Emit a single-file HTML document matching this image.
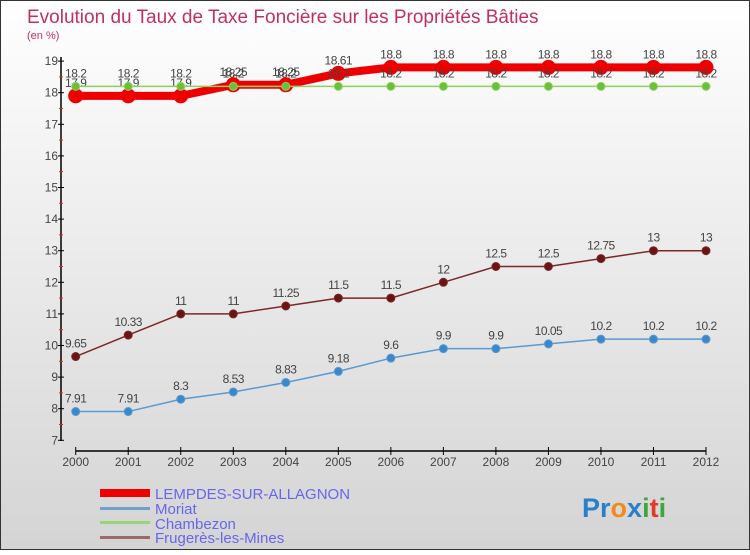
<!DOCTYPE html>
<html><head><meta charset="utf-8"><style>
html,body{margin:0;padding:0}
body{width:750px;height:550px;overflow:hidden;font-family:"Liberation Sans",sans-serif}
svg text{font-family:"Liberation Sans",sans-serif}
</style></head><body>
<svg id="chart" width="750" height="550" viewBox="0 0 750 550">
<defs><linearGradient id="bg" x1="0" y1="0" x2="0" y2="1"><stop offset="0" stop-color="#ffffff"/><stop offset="1" stop-color="#d4d4d4"/></linearGradient></defs>
<rect x="0.5" y="0.5" width="749" height="549" fill="url(#bg)" stroke="#333"/>
<text x="27" y="23" font-size="19" fill="#c0315f">Evolution du Taux de Taxe Foncière sur les Propriétés Bâties</text>
<text x="27" y="39" font-size="11" fill="#c0315f">(en %)</text>
<g id="axes"></g>
<g id="series"></g>
<g>
<rect x="100" y="489" width="50" height="8" fill="#e00"/>
<text x="155" y="499" font-size="15" fill="#6666ee">LEMPDES-SUR-ALLAGNON</text>
<rect x="100" y="507" width="50" height="3" fill="#6fa0cc"/>
<text x="155" y="514" font-size="15" fill="#6666ee">Moriat</text>
<rect x="100" y="521" width="50" height="3" fill="#9ad47a"/>
<text x="155" y="529" font-size="15" fill="#6666ee">Chambezon</text>
<rect x="100" y="536" width="50" height="3" fill="#9a6a6a"/>
<text x="155" y="543" font-size="15" fill="#6666ee">Frugerès-les-Mines</text>
</g>
<text x="582" y="517" font-size="27" font-weight="bold"><tspan fill="#2a7fc9">Pr</tspan><tspan fill="#f08a1c">o</tspan><tspan fill="#2a7fc9">x</tspan><tspan fill="#3aa83a">i</tspan><tspan fill="#e23a2a">t</tspan><tspan fill="#3aa83a">i</tspan></text>
</svg>
<script>
const years=[2000,2001,2002,2003,2004,2005,2006,2007,2008,2009,2010,2011,2012];
const yTicks=[7,8,9,10,11,12,13,14,15,16,17,18,19];
const lempdes=[17.9,17.9,17.9,18.25,18.25,18.61,18.8,18.8,18.8,18.8,18.8,18.8,18.8];
const moriat=[7.91,7.91,8.3,8.53,8.83,9.18,9.6,9.9,9.9,10.05,10.2,10.2,10.2];
const chambezon=[18.2,18.2,18.2,18.2,18.2,18.2,18.2,18.2,18.2,18.2,18.2,18.2,18.2];
const frugeres=[9.65,10.33,11,11,11.25,11.5,11.5,12,12.5,12.5,12.75,13,13];
const NS='http://www.w3.org/2000/svg';
const X0=75.7,X1=706,Y0=440.3,Y1=61.1,YMIN=7,YMAX=19;
function xs(i){return X0+(X1-X0)*i/(years.length-1);}
function ys(v){return Y0-(Y0-Y1)*(v-YMIN)/(YMAX-YMIN);}
function mk(tag,attrs,parent){const e=document.createElementNS(NS,tag);for(const k in attrs)e.setAttribute(k,attrs[k]);parent.appendChild(e);return e;}
const axes=document.getElementById('axes');
let yl=mk('line',{x1:61,y1:57,x2:61,y2:441,stroke:'#000','stroke-width':1.5},axes);


yTicks.forEach(t=>{
 const y=ys(t);
 const tk=mk('line',{x1:58,y1:y,x2:64,y2:y,stroke:'#000'},axes);
 
 
 const tx=mk('text',{x:58,y:y+4,'font-size':12,fill:'#444','text-anchor':'end'},axes);
 tx.textContent=t;
 
 
 if(t<YMAX){const m=mk('line',{x1:59,y1:ys(t+0.5),x2:63,y2:ys(t+0.5),stroke:'#e22'},axes);
 
 }
});
let xl=mk('line',{x1:X0,y1:451,x2:X1,y2:451,stroke:'#000','stroke-width':1.5},axes);


years.forEach((yr,i)=>{
 const x=xs(i);
 const tk=mk('line',{x1:x,y1:447,x2:x,y2:455,stroke:'#000'},axes);
 
 
 const tx=mk('text',{x:x,y:466,'font-size':12,fill:'#444','text-anchor':'middle'},axes);
 tx.textContent=yr;
 
 
});
const sg=document.getElementById('series');
function drawSeries(vals,name,color,width,r,fill){
 const g=mk('g',{},sg);
 
 
 const pl=mk('polyline',{points:vals.map((v,i)=>xs(i)+','+ys(v)).join(' '),fill:'none',stroke:color,'stroke-width':width,'stroke-linejoin':'round'},g);
 
 
 vals.forEach((v,i)=>{
  const c=mk('circle',{cx:xs(i),cy:ys(v),r:r,fill:fill,stroke:color,'stroke-width':1},g);
  
  
  const t=mk('text',{x:xs(i),y:ys(v)-9,'font-size':12,fill:'#444','text-anchor':'middle','letter-spacing':'-0.5'},g);
  t.textContent=v;
  
  
 });
}
drawSeries(moriat,'moriat','#5a9acf',1.5,4,'#3a88cc');
drawSeries(frugeres,'frugeres','#7a2a2a',1.5,4,'#6a1515');
drawSeries(lempdes,'lempdes','#e00',8,7,'#e00');
drawSeries(chambezon,'chambezon','#8fd060',1.5,4,'#6ac03a');
</script>
</body></html>
